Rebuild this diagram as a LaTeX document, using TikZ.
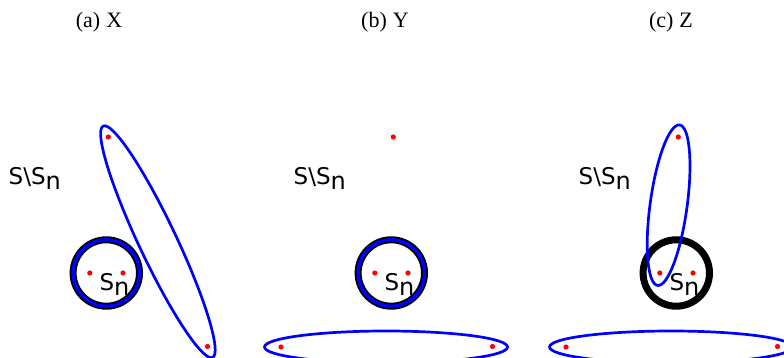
\documentclass[tikz,border=0pt]{standalone}
\usepackage{fontspec}
\setmainfont{Liberation Serif}
\newfontfamily\lblfont{DejaVu Sans}
\newcommand\mySn{S\raisebox{-5pt}{\fontsize{24}{24}\selectfont n}}
\begin{document}
\begin{tikzpicture}[x=1pt,y=-1pt,
  blueline/.style={draw=blue, line width=2.7pt},
  ring/.style={draw=black, line width=7pt},
  bluering/.style={draw=blue, line width=3.3pt},
  reddot/.style={fill=red, draw=none},
  setlbl/.style={font=\lblfont\fontsize{23}{23}\selectfont, inner sep=0pt, anchor=base west},
  ttl/.style={font=\fontsize{22}{22}\selectfont, inner sep=0pt, anchor=base}]
\useasboundingbox (0,0) rectangle (784,358);
\clip (0,0) rectangle (784,358);
% titles
\node[ttl] (ta) at (99,28) {(a)\hspace{6pt}X};
\node[ttl] (tb) at (385,28) {(b)\hspace{6pt}Y};
\node[ttl] (tc) at (671,28) {(c)\hspace{6pt}Z};
% set labels
\foreach \ox/\t in {0/a,285/b,570/c}{
  \node[setlbl] (out\t) at (8.5+\ox,185) {S\textbackslash\mySn};
}
% circles
\foreach \ox/\t in {0/a,285/b,570/c}{
  \draw[ring] (106.3+\ox,273) circle[radius=33.2pt];
}
\foreach \ox in {0,285}{
  \draw[bluering] (106.3+\ox,273) circle[radius=33.2pt];
}
% ellipses
\begin{scope}[shift={(157.9,241.75)}, rotate=-64.7]
  \draw[blueline] (0,0) ellipse [x radius=128pt, y radius=18.8pt];
\end{scope}
\begin{scope}[shift={(668.6,205.2)}, rotate=82.2]
  \draw[blueline] (0,0) ellipse [x radius=81pt, y radius=18.5pt];
\end{scope}
\foreach \ox in {285,570}{
  \draw[blueline] (101+\ox,347) ellipse [x radius=121.5pt, y radius=16pt];
}
% inner labels
\foreach \ox/\t in {0/a,285/b,570/c}{
  \node[setlbl] (in\t) at (99.3+\ox,290) {\mySn};
}
% red dots
\foreach \ox in {0,285,570}{
  \fill[reddot] (108.3+\ox,137) circle[radius=2.6pt];
  \fill[reddot] (89.8+\ox,273) circle[radius=2.6pt];
  \fill[reddot] (123+\ox,273) circle[radius=2.6pt];
  \fill[reddot] (-4+\ox,347) circle[radius=2.6pt];
  \fill[reddot] (207.5+\ox,346.5) circle[radius=2.6pt];
}
\end{tikzpicture}
\end{document}
